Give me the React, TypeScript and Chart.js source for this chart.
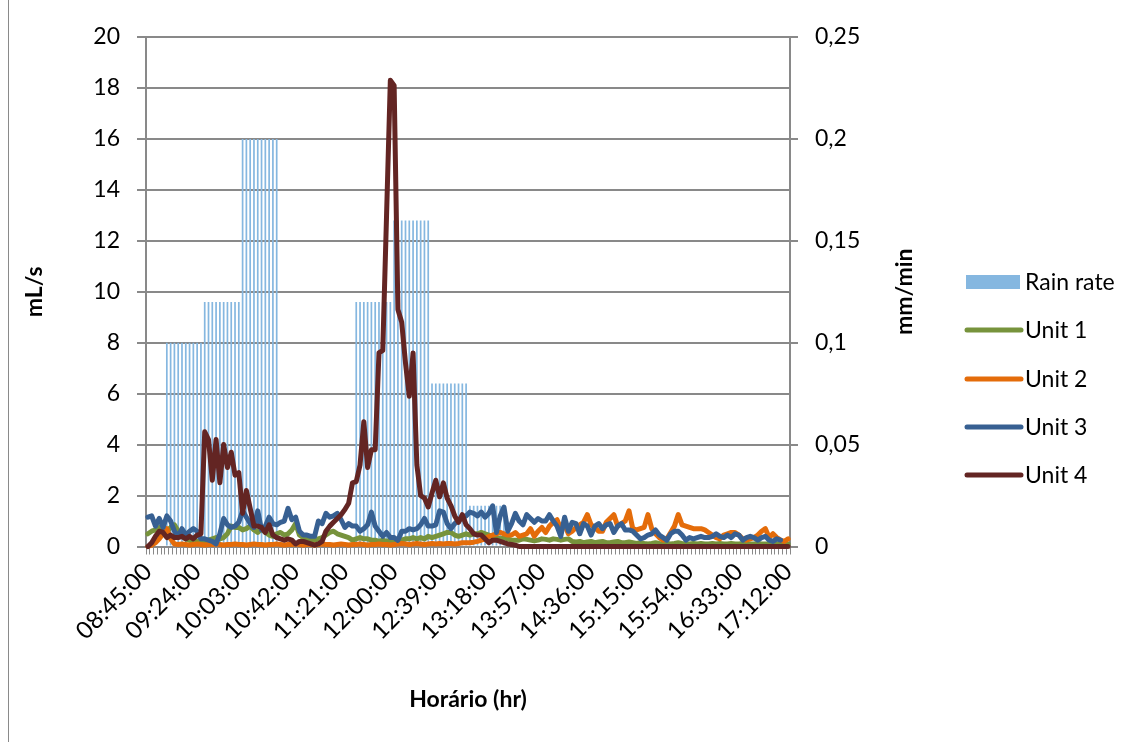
import React, { useEffect, useRef } from 'react';
import { Chart, registerables } from 'chart.js';

Chart.register(...registerables);

// Time axis: every 3 minutes from 08:45:00 to 17:12:00 (170 categories)
const START_MIN = 8 * 60 + 45;
const STEP_MIN = 3;
const N_POINTS = 170;
const pad2 = (n: number) => (n < 10 ? '0' + n : '' + n);
const CATEGORIES: string[] = [];
for (let i = 0; i < N_POINTS; i++) {
  const t = START_MIN + i * STEP_MIN;
  CATEGORIES.push(pad2(Math.floor(t / 60)) + ':' + pad2(t % 60) + ':00');
}

const TICK_LABELS = [
  '08:45:00', '09:24:00', '10:03:00', '10:42:00', '11:21:00', '12:00:00', '12:39:00',
  '13:18:00', '13:57:00', '14:36:00', '15:15:00', '15:54:00', '16:33:00', '17:12:00',
];

// Rain rate (mm/min, right axis)
const RAIN_RATE = [
  0, 0, 0, 0, 0, 0.1, 0.1, 0.1, 0.1, 0.1,
  0.1, 0.1, 0.1, 0.1, 0.1, 0.12, 0.12, 0.12, 0.12, 0.12,
  0.12, 0.12, 0.12, 0.12, 0.12, 0.2, 0.2, 0.2, 0.2, 0.2,
  0.2, 0.2, 0.2, 0.2, 0.2, 0, 0, 0, 0, 0,
  0, 0, 0, 0, 0, 0, 0, 0, 0, 0,
  0, 0, 0, 0, 0, 0.12, 0.12, 0.12, 0.12, 0.12,
  0.12, 0.12, 0.12, 0.12, 0.12, 0.16, 0.16, 0.16, 0.16, 0.16,
  0.16, 0.16, 0.16, 0.16, 0.16, 0.08, 0.08, 0.08, 0.08, 0.08,
  0.08, 0.08, 0.08, 0.08, 0.08, 0.02, 0.02, 0.02, 0.02, 0.02,
  0.02, 0.02, 0.02, 0.02, 0.02, 0, 0, 0, 0, 0,
  0, 0, 0, 0, 0, 0, 0, 0, 0, 0,
  0, 0, 0, 0, 0, 0, 0, 0, 0, 0,
  0, 0, 0, 0, 0, 0, 0, 0, 0, 0,
  0, 0, 0, 0, 0, 0, 0, 0, 0, 0,
  0, 0, 0, 0, 0, 0, 0, 0, 0, 0,
  0, 0, 0, 0, 0, 0, 0, 0, 0, 0,
  0, 0, 0, 0, 0, 0, 0, 0, 0, 0,
];

// Units (mL/s, left axis)
const UNIT_1 = [
  0.5, 0.6, 0.65, 0.75, 0.7, 0.6, 0.75, 0.85, 0.6, 0.4,
  0.3, 0.25, 0.2, 0.2, 0.2, 0.2, 0.25, 0.3, 0.35, 0.3,
  0.35, 0.5, 0.8, 0.75, 0.75, 0.65, 0.7, 0.8, 0.65, 0.55,
  0.7, 0.55, 0.45, 0.4, 0.5, 0.55, 0.45, 0.5, 0.65, 0.9,
  0.45, 0.35, 0.3, 0.25, 0.25, 0.3, 0.35, 0.45, 0.55, 0.6,
  0.5, 0.45, 0.4, 0.35, 0.25, 0.3, 0.35, 0.3, 0.3, 0.25,
  0.25, 0.2, 0.25, 0.2, 0.25, 0.2, 0.25, 0.25, 0.3, 0.3,
  0.35, 0.3, 0.35, 0.3, 0.4, 0.35, 0.4, 0.45, 0.5, 0.55,
  0.55, 0.45, 0.4, 0.45, 0.5, 0.45, 0.5, 0.5, 0.55, 0.5,
  0.45, 0.4, 0.35, 0.3, 0.35, 0.3, 0.25, 0.25, 0.25, 0.3,
  0.28, 0.25, 0.22, 0.25, 0.3, 0.28, 0.25, 0.3, 0.28, 0.25,
  0.28, 0.3, 0.2, 0.18, 0.2, 0.15, 0.18, 0.2, 0.15, 0.18,
  0.2, 0.15, 0.15, 0.18, 0.2, 0.15, 0.15, 0.18, 0.15, 0.12,
  0.15, 0.12, 0.1, 0.12, 0.15, 0.12, 0.1, 0.12, 0.1, 0.12,
  0.15, 0.12, 0.1, 0.1, 0.12, 0.1, 0.12, 0.1, 0.1, 0.12,
  0.1, 0.12, 0.1, 0.1, 0.12, 0.1, 0.1, 0.12, 0.1, 0.1,
  0.1, 0.12, 0.1, 0.1, 0.1, 0.12, 0.1, 0.1, 0.1, 0.1,
];

const UNIT_2 = [
  0, 0.05, 0.15, 0.3, 0.5, 0.7, 0.3, 0.1, 0.08, 0.1,
  0.08, 0.06, 0.08, 0.1, 0.08, 0.06, 0.08, 0.08, 0.1, 0.08,
  0.06, 0.08, 0.08, 0.1, 0.08, 0.08, 0.06, 0.08, 0.1, 0.08,
  0.08, 0.06, 0.08, 0.08, 0.1, 0.08, 0.06, 0.08, 0.08, 0.1,
  0.08, 0.06, 0.08, 0.08, 0.06, 0.08, 0.1, 0.08, 0.08, 0.06,
  0.08, 0.1, 0.08, 0.06, 0.08, 0.08, 0.1, 0.08, 0.06, 0.08,
  0.08, 0.1, 0.08, 0.08, 0.06, 0.08, 0.1, 0.12, 0.1, 0.08,
  0.1, 0.12, 0.1, 0.08, 0.1, 0.12, 0.1, 0.12, 0.1, 0.12,
  0.12, 0.1, 0.12, 0.15, 0.15, 0.15, 0.17, 0.2, 0.25, 0.3,
  0.4, 0.45, 0.5, 0.55, 0.5, 0.45, 0.45, 0.55, 0.4, 0.45,
  0.5, 0.7, 0.4, 0.6, 0.75, 0.55, 0.8, 0.95, 1.05, 0.7,
  0.85, 0.5, 0.6, 0.75, 0.85, 0.95, 1.25, 0.85, 0.75, 0.6,
  0.6, 0.95, 1.1, 1.25, 0.8, 0.9, 1.0, 1.4, 0.7, 0.65,
  0.7, 0.75, 1.25, 0.7, 0.5, 0.35, 0.25, 0.3, 0.55, 0.8,
  1.25, 0.85, 0.8, 0.75, 0.7, 0.7, 0.7, 0.65, 0.55, 0.45,
  0.35, 0.3, 0.45, 0.5, 0.55, 0.55, 0.45, 0.3, 0.25, 0.3,
  0.35, 0.45, 0.6, 0.7, 0.35, 0.5, 0.35, 0.25, 0.2, 0.3,
];

const UNIT_3 = [
  1.15, 1.2, 0.8, 1.1, 0.75, 1.2, 1.0, 0.6, 0.4, 0.7,
  0.45, 0.6, 0.7, 0.6, 0.3, 0.3, 0.25, 0.2, 0.1, 0.5,
  1.1, 0.85, 0.75, 0.8, 0.95, 1.4, 1.15, 0.9, 0.75, 1.4,
  0.65, 0.8, 1.15, 0.9, 0.85, 0.95, 1.0, 1.5, 1.05, 1.15,
  0.6, 0.45, 0.45, 0.4, 0.4, 1.0, 0.9, 1.3, 1.15, 1.2,
  1.3, 1.05, 0.75, 0.9, 0.8, 0.8, 0.6, 0.7, 0.85, 1.35,
  0.8, 0.6, 0.4, 0.55, 0.35, 0.35, 0.24, 0.6, 0.6, 0.7,
  0.65, 0.7, 0.85, 1.1, 0.8, 0.8, 0.85, 1.4, 1.35, 0.9,
  0.7, 0.9, 1.0, 1.15, 1.2, 1.35, 1.3, 1.2, 1.35, 1.15,
  1.3, 1.6, 0.55, 1.2, 1.55, 0.6, 0.9, 1.3, 1.0, 0.85,
  1.25, 1.1, 0.95, 1.1, 1.0, 1.0, 1.25, 1.0, 0.8, 0.4,
  1.15, 0.6, 0.95, 0.9, 0.5, 0.9, 0.8, 0.45, 0.8, 0.9,
  0.7, 0.85, 0.9, 0.55, 0.8, 0.9, 0.65, 0.65, 0.6, 0.45,
  0.3, 0.35, 0.45, 0.5, 0.65, 0.45, 0.35, 0.25, 0.5, 0.6,
  0.6, 0.45, 0.25, 0.35, 0.3, 0.35, 0.4, 0.35, 0.35, 0.4,
  0.5, 0.4, 0.35, 0.45, 0.35, 0.5, 0.45, 0.25, 0.35, 0.4,
  0.35, 0.25, 0.35, 0.4, 0.25, 0.2, 0.3, 0.25, null, null,
];

const UNIT_4 = [
  0, 0.15, 0.4, 0.6, 0.55, 0.35, 0.45, 0.35, 0.35, 0.4,
  0.3, 0.4, 0.3, 0.45, 0.5, 4.5, 4.2, 2.6, 4.2, 2.5,
  4.0, 3.1, 3.7, 2.8, 2.9, 1.3, 2.2, 1.5, 0.8, 0.8,
  0.75, 0.55, 0.85, 0.45, 0.35, 0.3, 0.25, 0.3, 0.25, 0.1,
  0.2, 0.2, 0.15, 0.1, 0.05, 0.1, 0.2, 0.6, 0.8, 0.95,
  1.1, 1.25, 1.45, 1.7, 2.5, 2.55, 3.2, 4.9, 3.1, 3.8,
  3.8, 7.6, 7.7, 13.0, 18.3, 18.1, 9.3, 8.8, 7.2, 5.9,
  7.6, 3.2, 2.0, 1.9, 1.55, 2.1, 2.6, 1.95, 2.5, 1.9,
  1.6, 1.2, 0.95, 1.25, 0.85, 0.7, 0.5, 0.45, 0.45, 0.3,
  0.15, 0.25, 0.25, 0.2, 0.15, 0.1, 0.08, 0.05, 0, 0,
  0, 0, 0, 0, 0, 0, 0, 0, 0, 0,
  0, 0, 0, 0, 0, 0, 0, 0, 0, 0,
  0, 0, 0, 0, 0, 0, 0, 0, 0, 0,
  0, 0, 0, 0, 0, 0, 0, 0, 0, 0,
  0, 0, 0, 0, 0, 0, 0, 0, 0, 0,
  0, 0, 0, 0, 0, 0, 0, 0, 0, 0,
  0, 0, 0, 0, 0, 0, 0, 0, 0, 0,
];

const SERIES_NAMES = ['Rain rate', 'Unit 1', 'Unit 2', 'Unit 3', 'Unit 4'];
const COLORS = ['#85B7E0', '#77933C', '#E46C0A', '#376092', '#632523'];

const FONT = 'Lato, "Open Sans", sans-serif';
const FS = 23;
const XFS = 24;
const GRID = '#898989';
const LINE_W = 5;
const W = 1134;
const H = 742;

const overlayPlugin = {
  id: 'overlay',
  afterDraw(chart: any) {
    const ctx = chart.ctx as CanvasRenderingContext2D;
    const a = chart.chartArea;
    const midY = (a.top + a.bottom) / 2;
    const midX = (a.left + a.right) / 2;
    ctx.save();
    ctx.fillStyle = '#000';
    ctx.font = `bold ${FS}px ${FONT}`;
    ctx.textAlign = 'center';
    ctx.textBaseline = 'middle';
    // left axis title
    ctx.save();
    ctx.translate(35, midY);
    ctx.rotate(-Math.PI / 2);
    ctx.fillText('mL/s', 0, 0);
    ctx.restore();
    // right axis title
    ctx.save();
    ctx.translate(905, midY);
    ctx.rotate(-Math.PI / 2);
    ctx.fillText('mm/min', 0, 0);
    ctx.restore();
    // x axis title
    ctx.fillText('Horário (hr)', midX, 700);

    // legend
    ctx.font = `${FS}px ${FONT}`;
    ctx.textAlign = 'left';
    const lx = 966;
    const tx = 1025;
    const ys = [282, 330, 379, 427, 475];
    SERIES_NAMES.forEach((name, i) => {
      const y = ys[i];
      if (i === 0) {
        ctx.fillStyle = COLORS[0];
        ctx.fillRect(lx, y - 7, 54, 14);
      } else {
        ctx.strokeStyle = COLORS[i];
        ctx.lineWidth = LINE_W;
        ctx.lineCap = 'round';
        ctx.beginPath();
        ctx.moveTo(lx + 1, y);
        ctx.lineTo(lx + 55, y);
        ctx.stroke();
      }
      ctx.fillStyle = '#000';
      ctx.fillText(name, tx, y + 1);
    });

    // chart frame (left edge)
    ctx.strokeStyle = '#8a8a8a';
    ctx.lineWidth = 1;
    ctx.beginPath();
    ctx.moveTo(8.5, 0);
    ctx.lineTo(8.5, H);
    ctx.stroke();
    ctx.restore();
  },
};

export default function App() {
  const ref = useRef<HTMLCanvasElement | null>(null);

  useEffect(() => {
    if (!ref.current) return;
    const lineDs = (idx: number, data: (number | null)[], order: number) => ({
      type: 'line' as const,
      label: SERIES_NAMES[idx],
      data,
      yAxisID: 'y',
      borderColor: COLORS[idx],
      backgroundColor: COLORS[idx],
      borderWidth: LINE_W,
      pointRadius: 0,
      tension: 0,
      borderJoinStyle: 'round' as const,
      borderCapStyle: 'round' as const,
      clip: false as const,
      order,
    });

    const chart = new Chart(ref.current, {
      type: 'bar',
      data: {
        labels: CATEGORIES,
        datasets: [
          {
            type: 'bar',
            label: SERIES_NAMES[0],
            data: RAIN_RATE,
            yAxisID: 'y2',
            backgroundColor: COLORS[0],
            borderWidth: 0,
            barPercentage: 0.45,
            categoryPercentage: 1,
            order: 5,
          } as any,
          lineDs(1, UNIT_1, 4),
          lineDs(2, UNIT_2, 3),
          lineDs(3, UNIT_3, 2),
          lineDs(4, UNIT_4, 1),
        ],
      },
      options: {
        responsive: false,
        animation: false,
        events: [],
        devicePixelRatio: 1,
        layout: { padding: { top: 37, left: 0, right: W - 870, bottom: 0 } },
        plugins: {
          legend: { display: false },
          tooltip: { enabled: false },
          title: { display: false },
        },
        scales: {
          x: {
            type: 'category',
            offset: true,
            grid: {
              display: true,
              drawOnChartArea: false,
              drawTicks: true,
              tickLength: 8,
              color: GRID,
              lineWidth: 1,
            },
            border: { display: true, color: GRID, width: 2 },
            ticks: {
              autoSkip: false,
              maxRotation: 45,
              minRotation: 45,
              color: '#000',
              padding: 3,
              font: { family: FONT, size: XFS },
              callback: (_v: any, i: number) =>
                TICK_LABELS.includes(CATEGORIES[i]) ? CATEGORIES[i] : '',
            },
            afterFit: (s: any) => {
              s.height = H - 546.5;
            },
          },
          y: {
            position: 'left',
            min: 0,
            max: 20,
            ticks: {
              stepSize: 2,
              color: '#000',
              padding: 17,
              font: { family: FONT, size: FS },
            },
            grid: { color: GRID, lineWidth: 2, tickLength: 9, drawTicks: true },
            border: { display: true, color: GRID, width: 2 },
            afterFit: (s: any) => {
              s.width = 146;
            },
          },
          y2: {
            position: 'right',
            min: 0,
            max: 0.25,
            ticks: {
              stepSize: 0.05,
              color: '#000',
              padding: 17,
              font: { family: FONT, size: FS },
              callback: (v: any) => String(Math.round(Number(v) * 100) / 100).replace('.', ','),
            },
            grid: { drawOnChartArea: false, color: GRID, lineWidth: 2, tickLength: 8, drawTicks: true },
            border: { display: true, color: GRID, width: 2 },
            afterFit: (s: any) => {
              s.width = 80;
            },
          },
        },
      } as any,
      plugins: [overlayPlugin],
    });
    return () => chart.destroy();
  }, []);

  return (
    <div style={{ position: 'absolute', left: 0, top: 0, width: W, height: H, background: '#fff' }}>
      <canvas ref={ref} width={W} height={H} style={{ width: W, height: H, display: 'block' }} />
    </div>
  );
}
